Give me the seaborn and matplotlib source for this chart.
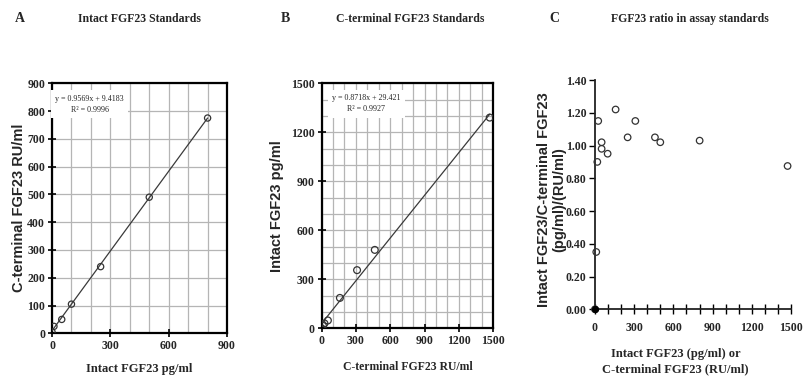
import numpy as np
import pandas as pd
import matplotlib
matplotlib.use("Agg")
import matplotlib.pyplot as plt
import seaborn as sns
from matplotlib.ticker import MultipleLocator

# Panel A: intact standards vs C-terminal readout
a_intact = [0, 10, 50, 100, 250, 500, 800]
a_cterm = [5, 25, 50, 105, 240, 490, 775]
a_slope, a_icpt, a_r2 = 0.9569, 9.4183, 0.9996

# Panel B: C-terminal standards vs intact readout
b_cterm = [0, 12, 25, 55, 160, 310, 465, 1470]
b_intact = [0, 15, 30, 48, 186, 356, 480, 1290]
b_slope, b_icpt, b_r2 = 0.8718, 29.421, 0.9927

# Panel C: ratio in assay standards
c_conc = [0, 10, 18, 25, 51, 51, 97, 158, 250, 309, 459, 500, 801, 1474]
c_ratio = [0.0, 0.35, 0.90, 1.15, 1.02, 0.98, 0.95, 1.22, 1.05, 1.15, 1.05, 1.02, 1.03, 0.875]

sns.set_theme(style="white")
plt.rcParams['font.family'] = ['Liberation Serif', 'DejaVu Serif']

fig = plt.figure(figsize=(8.04, 3.86), dpi=100)
axA = fig.add_axes([0.0647, 0.1365, 0.2177, 0.6477])
axB = fig.add_axes([0.400, 0.1495, 0.2134, 0.6347])
axC = fig.add_axes([0.740, 0.1987, 0.2438, 0.594])

ylab_font = dict(fontweight='bold', family=['Liberation Sans', 'DejaVu Sans'])


def grid_panel(ax, xmax, ymax, major_x, major_y):
    ax.set_xlim(0, xmax)
    ax.set_ylim(0, ymax)
    ax.xaxis.set_major_locator(MultipleLocator(major_x))
    ax.yaxis.set_major_locator(MultipleLocator(major_y))
    ax.xaxis.set_minor_locator(MultipleLocator(100))
    ax.yaxis.set_minor_locator(MultipleLocator(100))
    ax.grid(which='both', color='#b5b5b5', linewidth=0.9)
    ax.set_axisbelow(True)
    for s in ax.spines.values():
        s.set_color('black')
        s.set_linewidth(1.6)
    ax.tick_params(which='major', direction='inout', length=6, width=1.2,
                   color='black', bottom=True, left=True, pad=2)
    ax.tick_params(which='minor', length=0)
    for lab in ax.get_xticklabels() + ax.get_yticklabels():
        lab.set_fontsize(8.5)
        lab.set_fontweight('bold')


def fit_line(ax, xs, slope, icpt):
    xl = np.array([min(xs), max(xs)])
    ax.plot(xl, slope * xl + icpt, color='#3a3a3a', linewidth=0.9, zorder=3)


def eq_box(ax, slope, icpt, r2, fmt, xc):
    ax.text(xc, 0.955, f"y = {slope}x + {icpt:{fmt}}\nR² = {r2}",
            transform=ax.transAxes, ha='center', va='top', fontsize=5.8,
            multialignment='center', linespacing=1.5, zorder=5,
            bbox=dict(boxstyle='square,pad=0.55', fc='white', ec='none'))


# A
dfA = pd.DataFrame({'intact': a_intact, 'cterm': a_cterm})
fit_line(axA, a_intact, a_slope, a_icpt)
sns.scatterplot(data=dfA, x='intact', y='cterm', ax=axA, marker='o', s=20,
                facecolor='none', edgecolor='#333333', linewidth=0.9, zorder=4)
grid_panel(axA, 900, 900, 300, 100)
eq_box(axA, a_slope, a_icpt, a_r2, '.4f', 0.215)
axA.set_xlabel('Intact FGF23 pg/ml', fontsize=9, fontweight='bold', labelpad=8)
axA.set_ylabel('C-terminal FGF23 RU/ml', fontsize=10.5, labelpad=1, **ylab_font)

# B
dfB = pd.DataFrame({'cterm': b_cterm, 'intact': b_intact})
fit_line(axB, b_cterm, b_slope, b_icpt)
sns.scatterplot(data=dfB, x='cterm', y='intact', ax=axB, marker='o', s=24,
                facecolor='none', edgecolor='#333333', linewidth=0.9, zorder=4)
grid_panel(axB, 1500, 1500, 300, 300)
eq_box(axB, b_slope, b_icpt, b_r2, '.3f', 0.26)
axB.set_xlabel('C-terminal FGF23 RU/ml', fontsize=8.5, fontweight='bold', labelpad=10)
axB.set_ylabel('Intact FGF23 pg/ml', fontsize=10.5, labelpad=5, **ylab_font)

# C
dfC = pd.DataFrame({'conc': c_conc, 'ratio': c_ratio})
sns.scatterplot(data=dfC, x='conc', y='ratio', ax=axC, marker='o', s=22,
                facecolor='none', edgecolor='#333333', linewidth=0.9,
                zorder=4, clip_on=False)
axC.scatter([c_conc[0]], [c_ratio[0]], s=18, color='black', zorder=5, clip_on=False)
axC.set_xlim(0, 1500)
axC.set_ylim(0, 1.40)
axC.xaxis.set_major_locator(MultipleLocator(300))
axC.xaxis.set_minor_locator(MultipleLocator(100))
axC.yaxis.set_major_locator(MultipleLocator(0.2))
axC.yaxis.set_major_formatter(matplotlib.ticker.FormatStrFormatter('%.2f'))
for side in ['top', 'right']:
    axC.spines[side].set_visible(False)
for side in ['left', 'bottom']:
    axC.spines[side].set_color('#222222')
    axC.spines[side].set_linewidth(1.3)
axC.tick_params(axis='x', which='both', direction='inout', length=7, width=1.0,
                color='black', bottom=True, pad=6)
axC.tick_params(axis='y', which='major', direction='out', length=4, width=1.0,
                color='black', left=True, pad=2)
for lab in axC.get_xticklabels() + axC.get_yticklabels():
    lab.set_fontsize(8.5)
    lab.set_fontweight('bold')
axC.set_xlabel('Intact FGF23 (pg/ml) or\nC-terminal FGF23 (RU/ml)', fontsize=9,
               fontweight='bold', linespacing=1.3)
axC.xaxis.set_label_coords(0.41, -0.17)
axC.xaxis.label.set_va('top')
axC.set_ylabel('Intact FGF23/C-terminal FGF23\n(pg/ml)/(RU/ml)', fontsize=10.5,
               linespacing=1.15, **ylab_font)
axC.yaxis.set_label_coords(-0.145, 0.48)

# panel letters and titles
fig.text(0.019, 0.952, 'A', fontsize=10, fontweight='bold', va='center')
fig.text(0.174, 0.952, 'Intact FGF23 Standards', fontsize=8.5, fontweight='bold',
         ha='center', va='center')
fig.text(0.349, 0.952, 'B', fontsize=10, fontweight='bold', va='center')
fig.text(0.510, 0.952, 'C-terminal FGF23 Standards', fontsize=8.5, fontweight='bold',
         ha='center', va='center')
fig.text(0.683, 0.952, 'C', fontsize=10, fontweight='bold', va='center')
fig.text(0.858, 0.952, 'FGF23 ratio in assay standards', fontsize=8.5,
         fontweight='bold', ha='center', va='center')

fig.savefig('out.png', dpi=100)
